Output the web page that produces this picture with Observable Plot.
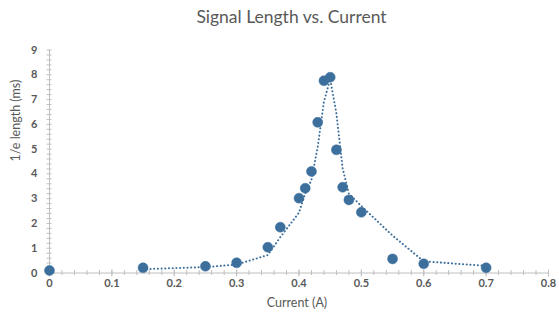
<!DOCTYPE html>
<html><head><meta charset="utf-8">
<script src="https://cdn.jsdelivr.net/npm/d3@7"></script>
<script src="https://cdn.jsdelivr.net/npm/@observablehq/plot@0.6"></script>
<style>
body{margin:0;background:#fff;}
#wrap{position:relative;width:559px;height:320px;overflow:hidden;}
#title{position:absolute;top:6px;left:12px;width:559px;text-align:center;font:17.5px Lato, sans-serif;color:#595959;}
#chart{position:absolute;top:0;left:0;}
</style></head><body>
<div id="wrap"><div id="chart"></div><div id="title">Signal Length vs. Current</div></div>
<script>
const currents = [0, 0.15, 0.25, 0.30, 0.35, 0.37, 0.40, 0.41, 0.42, 0.43, 0.44, 0.45, 0.46, 0.47, 0.48, 0.50, 0.55, 0.60, 0.70];
const lengths  = [0.1, 0.21, 0.27, 0.41, 1.04, 1.85, 3.02, 3.42, 4.1, 6.08, 7.76, 7.9, 4.97, 3.46, 2.95, 2.45, 0.57, 0.37, 0.21];
const xTicks = [0, 0.1, 0.2, 0.3, 0.4, 0.5, 0.6, 0.7, 0.8];
const xTickLabels = ["0", "0.1", "0.2", "0.3", "0.4", "0.5", "0.6", "0.7", "0.8"];
const yTicks = [0, 1, 2, 3, 4, 5, 6, 7, 8, 9];
const yTickLabels = ["0", "1", "2", "3", "4", "5", "6", "7", "8", "9"];
const xLabel = "Current (A)";
const yLabel = "1/e length (ms)";
const xMinorStep = 0.02;
const yMinorStep = 0.2;

const data = currents.map((c, i) => ({current: c, length: lengths[i]}));
const xMinor = d3.range(0, 0.8 + 1e-9, xMinorStep);
const yMinor = d3.range(0, 9 + 1e-9, yMinorStep);
const blue = "#3d6f9c";
const axisGray = "#bfbfbf";

const plot = Plot.plot({
  width: 559, height: 320,
  marginLeft: 49, marginRight: 11, marginTop: 49.5, marginBottom: 47.5,
  x: {domain: [0, 0.8]},
  y: {domain: [0, 9]},
  style: {fontFamily: "Lato, sans-serif", color: "#595959", background: "white"},
  marks: [
    Plot.axisX(xMinor, {tickSize: 5, dy: -2.5, tickFormat: () => "", label: null, stroke: axisGray}),
    Plot.axisX(xTicks, {tickSize: 7, dy: -3, tickFormat: () => "", label: null, stroke: axisGray}),
    Plot.axisX(xTicks, {tickSize: 0, tickPadding: 6, tickFormat: (d, i) => xTickLabels[i], fontWeight: "bold", fontSize: 11, label: null}),
    Plot.axisY(yMinor, {tickSize: 5, dx: 2.5, tickFormat: () => "", label: null, stroke: axisGray}),
    Plot.axisY(yTicks, {tickSize: 0, tickPadding: 12, tickFormat: (d, i) => yTickLabels[i], fontWeight: "bold", fontSize: 11, label: null}),
    Plot.text([xLabel], {frameAnchor: "bottom", dy: 34, dx: -2, fontSize: 12.5, fill: "#595959"}),
    Plot.text([yLabel], {frameAnchor: "left", rotate: -90, dx: -34, fontSize: 12.5, fill: "#595959"}),
    Plot.ruleY([0], {stroke: axisGray}),
    Plot.ruleX([0], {stroke: axisGray}),
    Plot.line(data, Plot.windowY({k: 2, anchor: "end", strict: true}, {x: "current", y: "length", stroke: blue, strokeWidth: 2, strokeDasharray: "0.1,3.6", strokeLinecap: "round"})),
    Plot.dot(data, {x: "current", y: "length", r: 5, fill: blue, stroke: blue, strokeWidth: 0.5})
  ]
});
document.getElementById("chart").appendChild(plot);
</script>
</body></html>
